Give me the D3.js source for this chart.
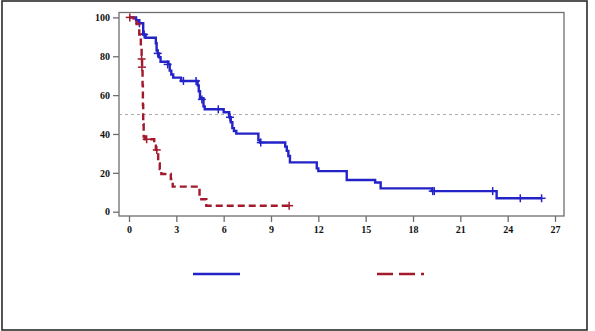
<!DOCTYPE html>
<html><head><meta charset="utf-8">
<script src="https://cdn.jsdelivr.net/npm/d3@7"></script>
<style>body{margin:0;background:#fff}svg{display:block}</style>
</head><body>
<script>
// Blue group: step times (months) and survival (%) after each step
const blueTimes = [0, 0.45, 0.65, 0.9, 1.05, 1.7, 1.75, 1.82, 1.9, 2.0, 2.5, 2.58, 2.68, 2.8, 3.3, 4.35, 4.42, 4.5, 4.72, 4.8, 6.0, 6.35, 6.45, 6.55, 6.65, 6.8, 8.2, 8.3, 9.9, 10.0, 10.1, 10.2, 11.9, 12.0, 13.8, 15.6, 15.95, 19.2, 23.3, 26.15];
const blueSurv  = [100, 98.5, 97, 91.2, 89.5, 86.7, 83, 81.5, 79.5, 77.2, 75.8, 72.6, 70.6, 69, 67.3, 65, 62, 58.4, 54.2, 52.7, 51.2, 48.6, 46, 43, 41.5, 40.2, 36.9, 35.6, 33.5, 31.3, 28.7, 25.4, 22.3, 20.9, 16.3, 15.0, 12.0, 10.6, 6.9, 6.9];
const blueCensT = [0.66, 0.96, 1.82, 2.45, 3.45, 4.25, 4.62, 5.66, 6.4, 8.35, 19.25, 19.35, 23.05, 24.8, 26.15];
const blueCensS = [97, 91.2, 81.5, 75.8, 67.3, 67.3, 57.8, 52.7, 48.6, 35.6, 10.6, 10.6, 10.6, 6.9, 6.9];

// Red group
const redTimes = [0, 0.3, 0.48, 0.65, 0.75, 0.8, 0.83, 0.86, 0.88, 0.9, 0.93, 1.0, 1.6, 1.7, 1.85, 1.95, 2.05, 2.65, 2.77, 4.47, 4.9, 10.15];
const redSurv  = [100, 98.5, 96.6, 91.2, 85, 78.6, 74.4, 65, 55, 45, 38.7, 37.3, 34, 31.8, 24.8, 22, 19.4, 16.8, 12.9, 6.4, 3.1, 3.1];
const redCensT = [0.05, 0.8, 0.82, 1.12, 1.76, 10.15];
const redCensS = [100, 78.6, 74.4, 37.3, 31.8, 3.1];

const xTicks = [0, 3, 6, 9, 12, 15, 18, 21, 24, 27];
const yTicks = [0, 20, 40, 60, 80, 100];
const refLine = 50;

const W = 595, H = 331;
const svg = d3.select("body").append("svg").attr("width", W).attr("height", H);

// outer border
svg.append("rect").attr("x", 2).attr("y", 1).attr("width", 585).attr("height", 329)
  .attr("fill", "none").attr("stroke", "#2b2b2b").attr("stroke-width", 1.6);

const x = d3.scaleLinear().domain([0, 27]).range([129, 555]);
const y = d3.scaleLinear().domain([0, 100]).range([211.7, 17.4]);
const frame = {x0: 119, x1: 564, y0: 12.5, y1: 216};

// frame
svg.append("rect").attr("x", frame.x0).attr("y", frame.y0)
  .attr("width", frame.x1 - frame.x0).attr("height", frame.y1 - frame.y0)
  .attr("fill", "none").attr("stroke", "#6e6e6e").attr("stroke-width", 1.3);

// axes
const fontFam = "'Liberation Serif','Times New Roman',serif";
const xAxis = svg.append("g").attr("transform", `translate(0,${frame.y1})`)
  .call(d3.axisBottom(x).tickValues(xTicks).tickSize(6).tickPadding(4));
const yAxis = svg.append("g").attr("transform", `translate(${frame.x0},0)`)
  .call(d3.axisLeft(y).tickValues(yTicks).tickSize(6).tickPadding(3));
[xAxis, yAxis].forEach(g => {
  g.select(".domain").remove();
  g.selectAll("line").attr("stroke", "#6e6e6e").attr("stroke-width", 1.3);
  g.selectAll("text").attr("font-family", fontFam).attr("font-weight", "bold")
    .attr("font-size", "10px").attr("fill", "#111");
});

// reference line at 50%
svg.append("line").attr("x1", frame.x0).attr("x2", frame.x1)
  .attr("y1", y(refLine)).attr("y2", y(refLine))
  .attr("stroke", "#a0a0a0").attr("stroke-width", 0.9).attr("stroke-dasharray", "3,3");

const blueCol = "#2323c8", redCol = "#a21a2c";
const line = d3.line().x(d => x(d[0])).y(d => y(d[1])).curve(d3.curveStepAfter);

function plus(data, col) {
  const g = svg.append("g").attr("stroke", col).attr("stroke-width", 1.5);
  data.forEach(d => {
    const cx = x(d[0]), cy = y(d[1]);
    g.append("line").attr("x1", cx - 4).attr("x2", cx + 4).attr("y1", cy).attr("y2", cy);
    g.append("line").attr("x1", cx).attr("x2", cx).attr("y1", cy - 4).attr("y2", cy + 4);
  });
}

svg.append("path").datum(blueTimes.map((t, i) => [t, blueSurv[i]]))
  .attr("d", line).attr("fill", "none").attr("stroke", blueCol).attr("stroke-width", 2.4);
plus(blueCensT.map((t, i) => [t, blueCensS[i]]), blueCol);

svg.append("path").datum(redTimes.map((t, i) => [t, redSurv[i]]))
  .attr("d", line).attr("fill", "none").attr("stroke", redCol).attr("stroke-width", 2.4)
  .attr("stroke-dasharray", "7,4");
plus(redCensT.map((t, i) => [t, redCensS[i]]), redCol);

// legend
svg.append("line").attr("x1", 193).attr("x2", 240).attr("y1", 274).attr("y2", 274)
  .attr("stroke", blueCol).attr("stroke-width", 2.4);
svg.append("line").attr("x1", 377).attr("x2", 424).attr("y1", 274).attr("y2", 274)
  .attr("stroke", redCol).attr("stroke-width", 2.4).attr("stroke-dasharray", "16,6");
</script>
</body></html>
